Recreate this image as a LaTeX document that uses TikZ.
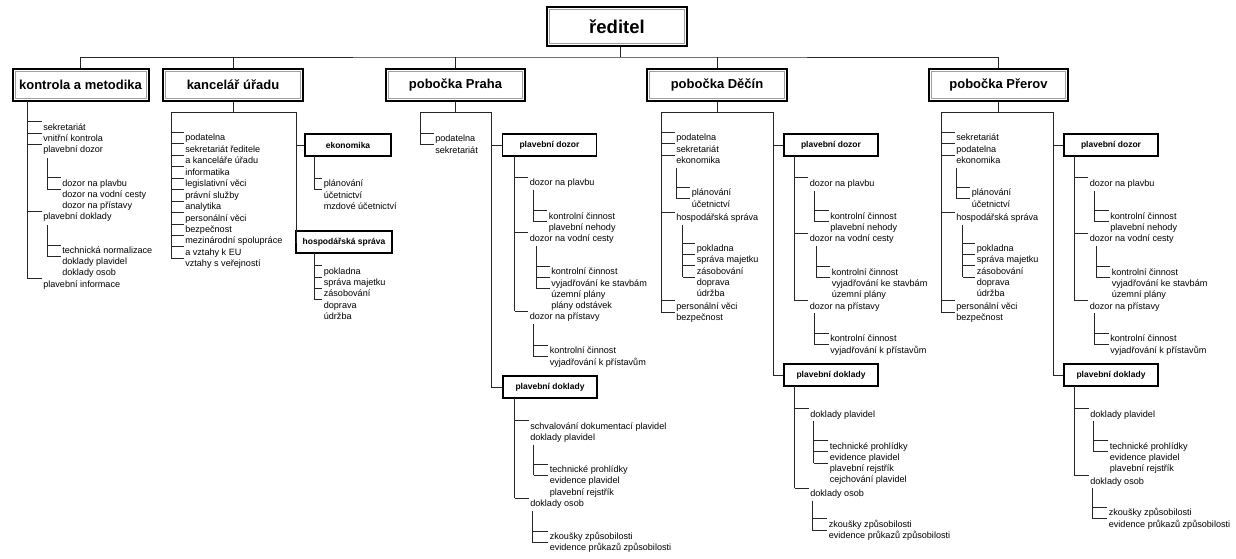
\documentclass[tikz,border=0pt]{standalone}
\usepackage{fontspec}
\setmainfont{Liberation Sans}
\newcommand\fitem{\fontsize{9.1}{11}\selectfont}
\newcommand\fsubb{\bfseries\fontsize{8.5}{10}\selectfont}
\newcommand\flvl{\bfseries\fontsize{13}{15}\selectfont}
\newcommand\ftopb{\bfseries\fontsize{18.5}{20}\selectfont}
\newcommand\tickl[3]{\draw[ln] (#1) -- (#1 |- #3.north west);\foreach \n in {#2}{\draw[ln] (#1 |- \n.north west) -- (\n.north west);}}
\begin{document}
\begin{tikzpicture}[x=1pt,y=-1pt,
  ln/.style={draw=black!85, line width=0.65pt},
  itm/.style={anchor=west, font=\fitem, inner xsep=1.6pt, inner ysep=1.75pt, text height=6.6pt, text depth=1.9pt},
  topbox/.style={draw=black, line width=2pt, fill=white, minimum height=32pt, font=\flvl, inner sep=0pt,
    path picture={\draw[gray!75, line width=0.8pt] ([xshift=2.6pt,yshift=-2.6pt]path picture bounding box.north west) rectangle ([xshift=-2.6pt,yshift=2.6pt]path picture bounding box.south east);}},
  subbox/.style={draw=black, line width=1.8pt, fill=white, minimum height=22pt, minimum width=94pt, font=\fsubb, inner sep=0pt}
]
\fill[white] (0,0) rectangle (1236,558);
\useasboundingbox (0,0) rectangle (1236,558);

% ---------- top level ----------
\node[topbox, minimum width=140pt, minimum height=39pt, font=\ftopb] (dir) at (617,26.5) {ředitel};
\node[topbox, minimum width=136pt] (K) at (80.5,85) {kontrola a metodika};
\node[topbox, minimum width=140pt] (C) at (233,85) {kancelář úřadu};
\node[topbox, minimum width=139pt] (P) at (455.5,85) {pobočka Praha};
\node[topbox, minimum width=140pt] (D) at (717,85) {pobočka Děčín};
\node[topbox, minimum width=139pt] (R) at (998.5,85) {pobočka Přerov};
\coordinate (bus) at (620,57);
\draw[ln] (dir.south -| bus) -- (bus);
\draw[ln] (K.north) |- (bus) -| (R.north);
\draw[ln] (C.north) -- (C.north |- bus);
\draw[ln] (P.north) -- (P.north |- bus);
\draw[ln] (D.north) -- (D.north |- bus);

% ---------- kontrola a metodika ----------
\coordinate (Kv) at (27,101);
\node[itm] (K1) at (41.5,128) {sekretariát};
\node[itm] (K2) at (41.5,139.2) {vnitřní kontrola};
\node[itm] (K3) at (41.5,150.4) {plavební dozor};
\coordinate (K3v) at (47,158);
\node[itm] (K3a) at (60.5,184) {dozor na plavbu};
\node[itm] (K3b) at (60.5,195.2) {dozor na vodní cesty};
\node[itm] (K3c) at (60.5,206.4) {dozor na přístavy};
\node[itm] (K4) at (41.5,217.6) {plavební doklady};
\coordinate (K4v) at (47,225);
\node[itm] (K4a) at (60.5,251.2) {technická normalizace};
\node[itm] (K4b) at (60.5,262.4) {doklady plavidel};
\node[itm] (K4c) at (60.5,273.6) {doklady osob};
\node[itm] (K5) at (41.5,284.8) {plavební informace};
\tickl{Kv}{K1,K2,K3,K4,K5}{K5}
\tickl{K3v}{K3a,K3b}{K3b}
\tickl{K4v}{K4a,K4b}{K4b}

% ---------- kancelář úřadu ----------
\coordinate (Ch) at (233,112);
\coordinate (CL) at (171,112);
\coordinate (CR) at (296,112);
\draw[ln] (C.south) -- (Ch);
\draw[ln] (CL) -- (CR);
\node[itm] (C1) at (183.5,138.5) {podatelna};
\node[itm] (C2) at (183.5,150) {sekretariát ředitele};
\node[itm] (C3) at (183.5,161.4) {a kanceláře úřadu};
\node[itm] (C4) at (183.5,172.9) {informatika};
\node[itm] (C5) at (183.5,184.3) {legislativní věci};
\node[itm] (C6) at (183.5,195.8) {právní služby};
\node[itm] (C7) at (183.5,207.2) {analytika};
\node[itm] (C8) at (183.5,218.7) {personální věci};
\node[itm] (C9) at (183.5,230.1) {bezpečnost};
\node[itm] (C10) at (183.5,241.6) {mezinárodní spolupráce};
\node[itm] (C11) at (183.5,253) {a vztahy k EU};
\node[itm] (C12) at (183.5,264.5) {vztahy s veřejností};
\tickl{CL}{C1,C2,C3,C4,C5,C6,C7,C8,C9,C10,C11,C12}{C12}
\node[subbox, minimum width=86pt] (CE) at (348,145) {ekonomika};
\node[subbox, minimum width=96pt] (CH) at (344,242) {hospodářská správa};
\draw[ln] (CR |- CE.west) -- (CE.west);
\draw[ln] (CR) |- (CH.west);
\coordinate (CEv) at (314,156);
\node[itm] (CE1) at (322,184.3) {plánování};
\node[itm] (CE2) at (322,195.7) {účetnictví};
\node[itm] (CE3) at (322,207.1) {mzdové účetnictví};
\tickl{CEv}{CE1,CE2}{CE2}
\coordinate (CHv) at (314,253);
\node[itm] (CH1) at (322,271.7) {pokladna};
\node[itm] (CH2) at (322,283.1) {správa majetku};
\node[itm] (CH3) at (322,294.5) {zásobování};
\node[itm] (CH4) at (322,305.9) {doprava};
\node[itm] (CH5) at (322,317.3) {údržba};
\tickl{CHv}{CH1,CH2,CH3,CH4}{CH4}

% ---------- pobočka Praha ----------
\coordinate (PL) at (420,112);
\coordinate (PR) at (491,112);
\draw[ln] (P.south) -- (P.south |- PL);
\draw[ln] (PL) -- (PR);
\node[itm] (P1) at (433.5,139.3) {podatelna};
\node[itm] (P2) at (433.5,150.7) {sekretariát};
\tickl{PL}{P1,P2}{P2}
\node[subbox] (PD) at (549.5,145) {plavební dozor};
\node[subbox] (PK) at (550,387) {plavební doklady};
\draw[ln] (PR |- PD.west) -- (PD.west);
\draw[ln] (PR) |- (PK.west);
\coordinate (PDv) at (514.5,156);
\node[itm] (PD1) at (528,183.5) {dozor na plavbu};
\coordinate (PD1v) at (533.5,190);
\node[itm] (PD1a) at (547,216.7) {kontrolní činnost};
\node[itm] (PD1b) at (547,227.9) {plavební nehody};
\node[itm] (PD2) at (528,239) {dozor na vodní cesty};
\coordinate (PD2v) at (536,245.5);
\node[itm] (PD2a) at (549.5,272.5) {kontrolní činnost};
\node[itm] (PD2b) at (549.5,283.7) {vyjadřování ke stavbám};
\node[itm] (PD2c) at (549.5,294.9) {územní plány};
\node[itm] (PD2d) at (549.5,306.1) {plány odstávek};
\node[itm] (PD3) at (528,317.3) {dozor na přístavy};
\coordinate (PD3v) at (533.5,324);
\node[itm] (PD3a) at (548,351.5) {kontrolní činnost};
\node[itm] (PD3b) at (548,362.7) {vyjadřování k přístavům};
\tickl{PDv}{PD1,PD2,PD3}{PD3}
\tickl{PD1v}{PD1a,PD1b}{PD1b}
\tickl{PD2v}{PD2a,PD2b,PD2c}{PD2c}
\tickl{PD3v}{PD3a,PD3b}{PD3b}
\coordinate (PKv) at (514.5,398);
\node[itm] (PK1) at (528.5,426.7) {schvalování dokumentací plavidel};
\node[itm] (PK2) at (528.5,437.9) {doklady plavidel};
\coordinate (PK2v) at (533.5,444.5);
\node[itm] (PK2a) at (548,470.3) {technické prohlídky};
\node[itm] (PK2b) at (548,481.5) {evidence plavidel};
\node[itm] (PK2c) at (548,492.7) {plavební rejstřík};
\node[itm] (PK3) at (528.5,504.3) {doklady osob};
\coordinate (PK3v) at (532,511);
\node[itm] (PK3a) at (548,537.3) {zkoušky způsobilosti};
\node[itm] (PK3b) at (548,548.5) {evidence průkazů způsobilosti};
\tickl{PKv}{PK1,PK3}{PK3}
\tickl{PK2v}{PK2a,PK2b}{PK2b}
\tickl{PK3v}{PK3a,PK3b}{PK3b}

% ---------- pobočka Děčín ----------
\coordinate (DL) at (661,112);
\coordinate (DR) at (773,112);
\draw[ln] (D.south) -- (D.south |- DL);
\draw[ln] (DL) -- (DR);
\node[itm] (D1) at (674.5,138.5) {podatelna};
\node[itm] (D2) at (674.5,150) {sekretariát};
\node[itm] (D3) at (674.5,161.5) {ekonomika};
\coordinate (D3v) at (676,168);
\node[itm] (D3a) at (690,193.3) {plánování};
\node[itm] (D3b) at (690,204.7) {účetnictví};
\node[itm] (D4) at (674.5,218.3) {hospodářská správa};
\coordinate (D4v) at (682.5,224.5);
\node[itm] (D4a) at (695,249.3) {pokladna};
\node[itm] (D4b) at (695,260.6) {správa majetku};
\node[itm] (D4c) at (695,271.9) {zásobování};
\node[itm] (D4d) at (695,283.2) {doprava};
\node[itm] (D4e) at (695,294.5) {údržba};
\node[itm] (D5) at (674.5,306.8) {personální věci};
\node[itm] (D6) at (674.5,318.2) {bezpečnost};
\tickl{DL}{D1,D2,D3,D4,D5,D6}{D6}
\tickl{D3v}{D3a,D3b}{D3b}
\tickl{D4v}{D4a,D4b,D4c,D4d}{D4d}
\node[subbox] (DD) at (831,145) {plavební dozor};
\node[subbox] (DK) at (831,375) {plavební doklady};
\draw[ln] (DR |- DD.west) -- (DD.west);
\draw[ln] (DR) |- (DK.west);
\coordinate (DDv) at (794.5,156);
\node[itm] (DD1) at (808,184) {dozor na plavbu};
\coordinate (DD1v) at (814,190.5);
\node[itm] (DD1a) at (828.5,216.7) {kontrolní činnost};
\node[itm] (DD1b) at (828.5,228) {plavební nehody};
\node[itm] (DD2) at (808,239.3) {dozor na vodní cesty};
\coordinate (DD2v) at (816.5,245.5);
\node[itm] (DD2a) at (830,272.7) {kontrolní činnost};
\node[itm] (DD2b) at (830,284) {vyjadřování ke stavbám};
\node[itm] (DD2c) at (830,295.3) {územní plány};
\node[itm] (DD3) at (808,306.7) {dozor na přístavy};
\coordinate (DD3v) at (814,313);
\node[itm] (DD3a) at (828.5,339.5) {kontrolní činnost};
\node[itm] (DD3b) at (828.5,351) {vyjadřování k přístavům};
\tickl{DDv}{DD1,DD2,DD3}{DD3}
\tickl{DD1v}{DD1a,DD1b}{DD1b}
\tickl{DD2v}{DD2a,DD2b}{DD2b}
\tickl{DD3v}{DD3a,DD3b}{DD3b}
\coordinate (DKv) at (794.5,386);
\node[itm] (DK1) at (808.5,415) {doklady plavidel};
\coordinate (DK1v) at (813.5,421);
\node[itm] (DK1a) at (828,446.7) {technické prohlídky};
\node[itm] (DK1b) at (828,458) {evidence plavidel};
\node[itm] (DK1c) at (828,469.3) {plavební rejstřík};
\node[itm] (DK1d) at (828,480.6) {cejchování plavidel};
\node[itm] (DK2) at (808.5,494.3) {doklady osob};
\coordinate (DK2v) at (812,500.5);
\node[itm] (DK2a) at (827,525) {zkoušky způsobilosti};
\node[itm] (DK2b) at (827,536.5) {evidence průkazů způsobilosti};
\tickl{DKv}{DK1,DK2}{DK2}
\tickl{DK1v}{DK1a,DK1b,DK1c}{DK1c}
\tickl{DK2v}{DK2a,DK2b}{DK2b}

% ---------- pobočka Přerov ----------
\coordinate (RL) at (941,112);
\coordinate (RR) at (1053,112);
\draw[ln] (R.south) -- (R.south |- RL);
\draw[ln] (RL) -- (RR);
\node[itm] (R1) at (954.5,138.5) {sekretariát};
\node[itm] (R2) at (954.5,150) {podatelna};
\node[itm] (R3) at (954.5,161.5) {ekonomika};
\coordinate (R3v) at (956,168);
\node[itm] (R3a) at (970,193.3) {plánování};
\node[itm] (R3b) at (970,204.7) {účetnictví};
\node[itm] (R4) at (954.5,218.3) {hospodářská správa};
\coordinate (R4v) at (962.5,224.5);
\node[itm] (R4a) at (975,249.3) {pokladna};
\node[itm] (R4b) at (975,260.6) {správa majetku};
\node[itm] (R4c) at (975,271.9) {zásobování};
\node[itm] (R4d) at (975,283.2) {doprava};
\node[itm] (R4e) at (975,294.5) {údržba};
\node[itm] (R5) at (954.5,306.8) {personální věci};
\node[itm] (R6) at (954.5,318.2) {bezpečnost};
\tickl{RL}{R1,R2,R3,R4,R5,R6}{R6}
\tickl{R3v}{R3a,R3b}{R3b}
\tickl{R4v}{R4a,R4b,R4c,R4d}{R4d}
\node[subbox] (RD) at (1111,145) {plavební dozor};
\node[subbox] (RK) at (1111,375) {plavební doklady};
\draw[ln] (RR |- RD.west) -- (RD.west);
\draw[ln] (RR) |- (RK.west);
\coordinate (RDv) at (1074.5,156);
\node[itm] (RD1) at (1088,184) {dozor na plavbu};
\coordinate (RD1v) at (1094,190.5);
\node[itm] (RD1a) at (1108.5,216.7) {kontrolní činnost};
\node[itm] (RD1b) at (1108.5,228) {plavební nehody};
\node[itm] (RD2) at (1088,239.3) {dozor na vodní cesty};
\coordinate (RD2v) at (1096.5,245.5);
\node[itm] (RD2a) at (1110,272.7) {kontrolní činnost};
\node[itm] (RD2b) at (1110,284) {vyjadřování ke stavbám};
\node[itm] (RD2c) at (1110,295.3) {územní plány};
\node[itm] (RD3) at (1088,306.7) {dozor na přístavy};
\coordinate (RD3v) at (1094,313);
\node[itm] (RD3a) at (1108.5,339.5) {kontrolní činnost};
\node[itm] (RD3b) at (1108.5,351) {vyjadřování k přístavům};
\tickl{RDv}{RD1,RD2,RD3}{RD3}
\tickl{RD1v}{RD1a,RD1b}{RD1b}
\tickl{RD2v}{RD2a,RD2b}{RD2b}
\tickl{RD3v}{RD3a,RD3b}{RD3b}
\coordinate (RKv) at (1074.5,386);
\node[itm] (RK1) at (1088.5,415) {doklady plavidel};
\coordinate (RK1v) at (1093.5,421);
\node[itm] (RK1a) at (1108,446.7) {technické prohlídky};
\node[itm] (RK1b) at (1108,458) {evidence plavidel};
\node[itm] (RK1c) at (1108,469.3) {plavební rejstřík};
\node[itm] (RK2) at (1088.5,481.7) {doklady osob};
\coordinate (RK2v) at (1092,488);
\node[itm] (RK2a) at (1107,513.3) {zkoušky způsobilosti};
\node[itm] (RK2b) at (1107,524.7) {evidence průkazů způsobilosti};
\tickl{RKv}{RK1,RK2}{RK2}
\tickl{RK1v}{RK1a,RK1b}{RK1b}
\tickl{RK2v}{RK2a,RK2b}{RK2b}
\end{tikzpicture}
\end{document}
